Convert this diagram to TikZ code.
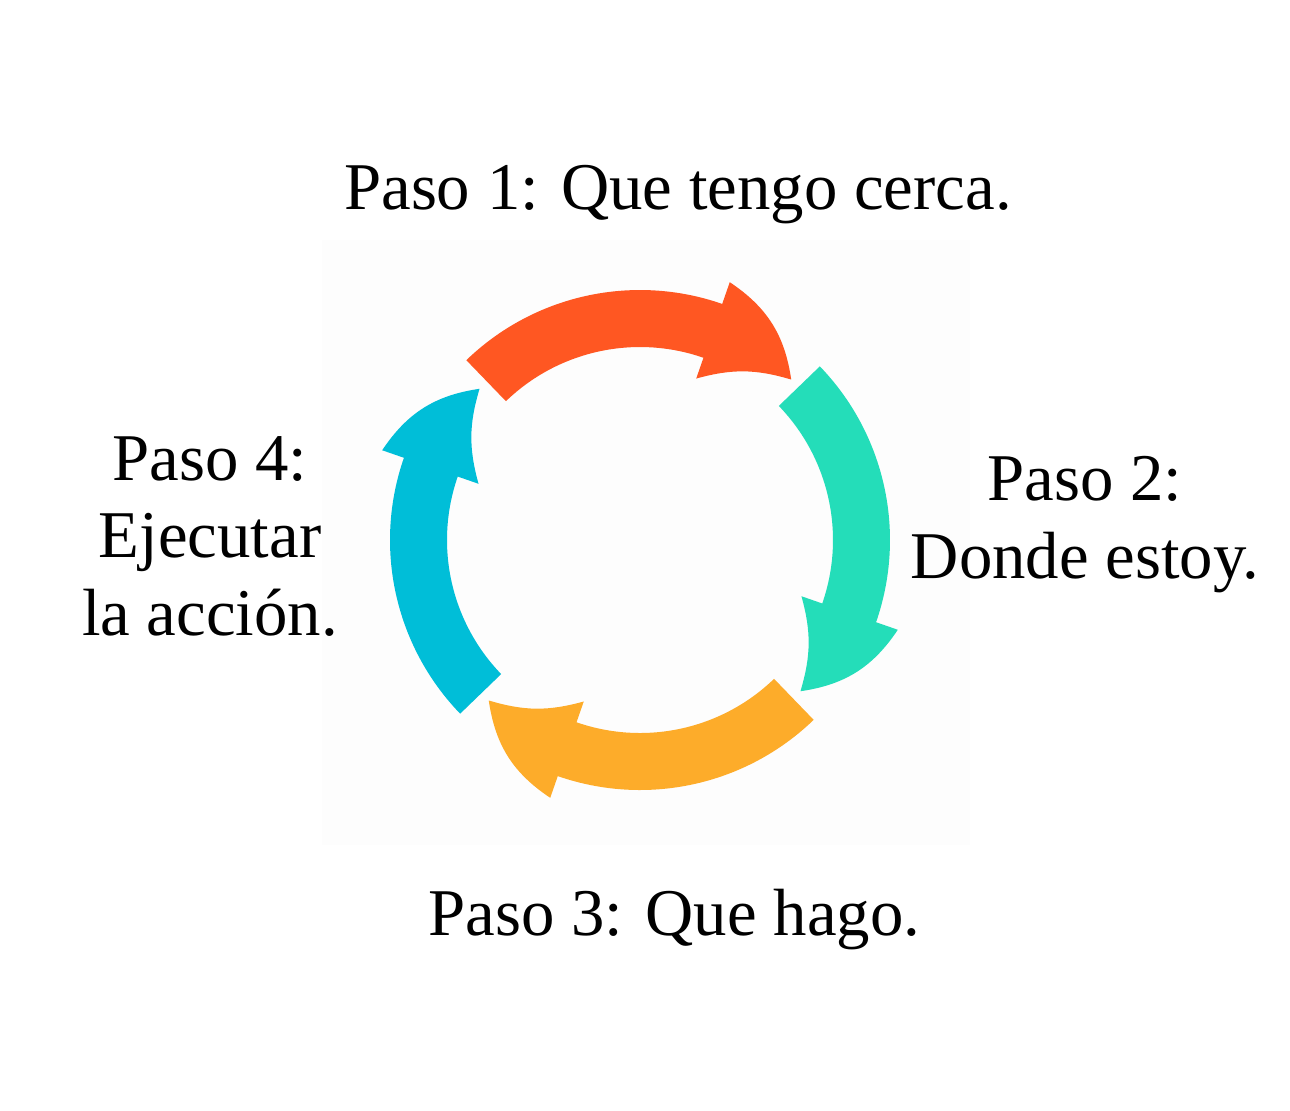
\documentclass[tikz,border=0pt]{standalone}
\usepackage{fontspec}
\setmainfont{Liberation Serif}
\usetikzlibrary{positioning}
\definecolor{stepred}{RGB}{255,87,34}
\definecolor{stepteal}{RGB}{36,221,185}
\definecolor{stepamber}{RGB}{253,172,42}
\definecolor{stepcyan}{RGB}{0,190,216}
\definecolor{panelgrey}{RGB}{253,253,253}

\tikzset{
  steplabel/.style={font=\fontsize{19}{22}\selectfont, align=center,
                    inner sep=0pt, anchor=base},
}

\begin{document}
\begin{tikzpicture}

%% ── Frame (circle centre at the origin) ───────────────────────────────────
\useasboundingbox (-6.40,-5.70) rectangle (6.50,5.40);
\fill[white] (-6.40,-5.70) rectangle (6.50,5.40);

% faint square behind the cycle
\fill[panelgrey] (-3.18,-3.05) rectangle (3.30,3.00);

%% ── Cycle: four curved arrows, clockwise ──────────────────────────────────
\def\ro{2.50}  % outer radius of the band
\def\ri{1.93}  % inner radius of the band
\foreach \rot/\col in {0/stepred, -90/stepteal, -180/stepamber, -270/stepcyan}{
  \begin{scope}[rotate=\rot]
    \fill[\col]
      (134:\ro) arc[start angle=134, end angle=70.8, radius=\ro]
      -- (70.8:2.73) to[bend left=24] (46.7:2.205)
      to[bend right=16] (70.8:1.71)
      -- (70.8:\ri) arc[start angle=70.8, end angle=134, radius=\ri]
      -- cycle;
  \end{scope}
}

%% ── Step labels (base = last line) ────────────────────────────────────────
\node[steplabel] (paso1) at (0.38,3.31)   {Paso 1: Que tengo cerca.};
\node[steplabel] (paso2) at (4.45,-0.38)  {Paso 2:\\Donde estoy.};
\node[steplabel] (paso3) at (0.345,-3.95) {Paso 3: Que hago.};
\node[steplabel] (paso4) at (-4.30,-0.95) {Paso 4:\\Ejecutar\\la acción.};

\end{tikzpicture}
\end{document}
